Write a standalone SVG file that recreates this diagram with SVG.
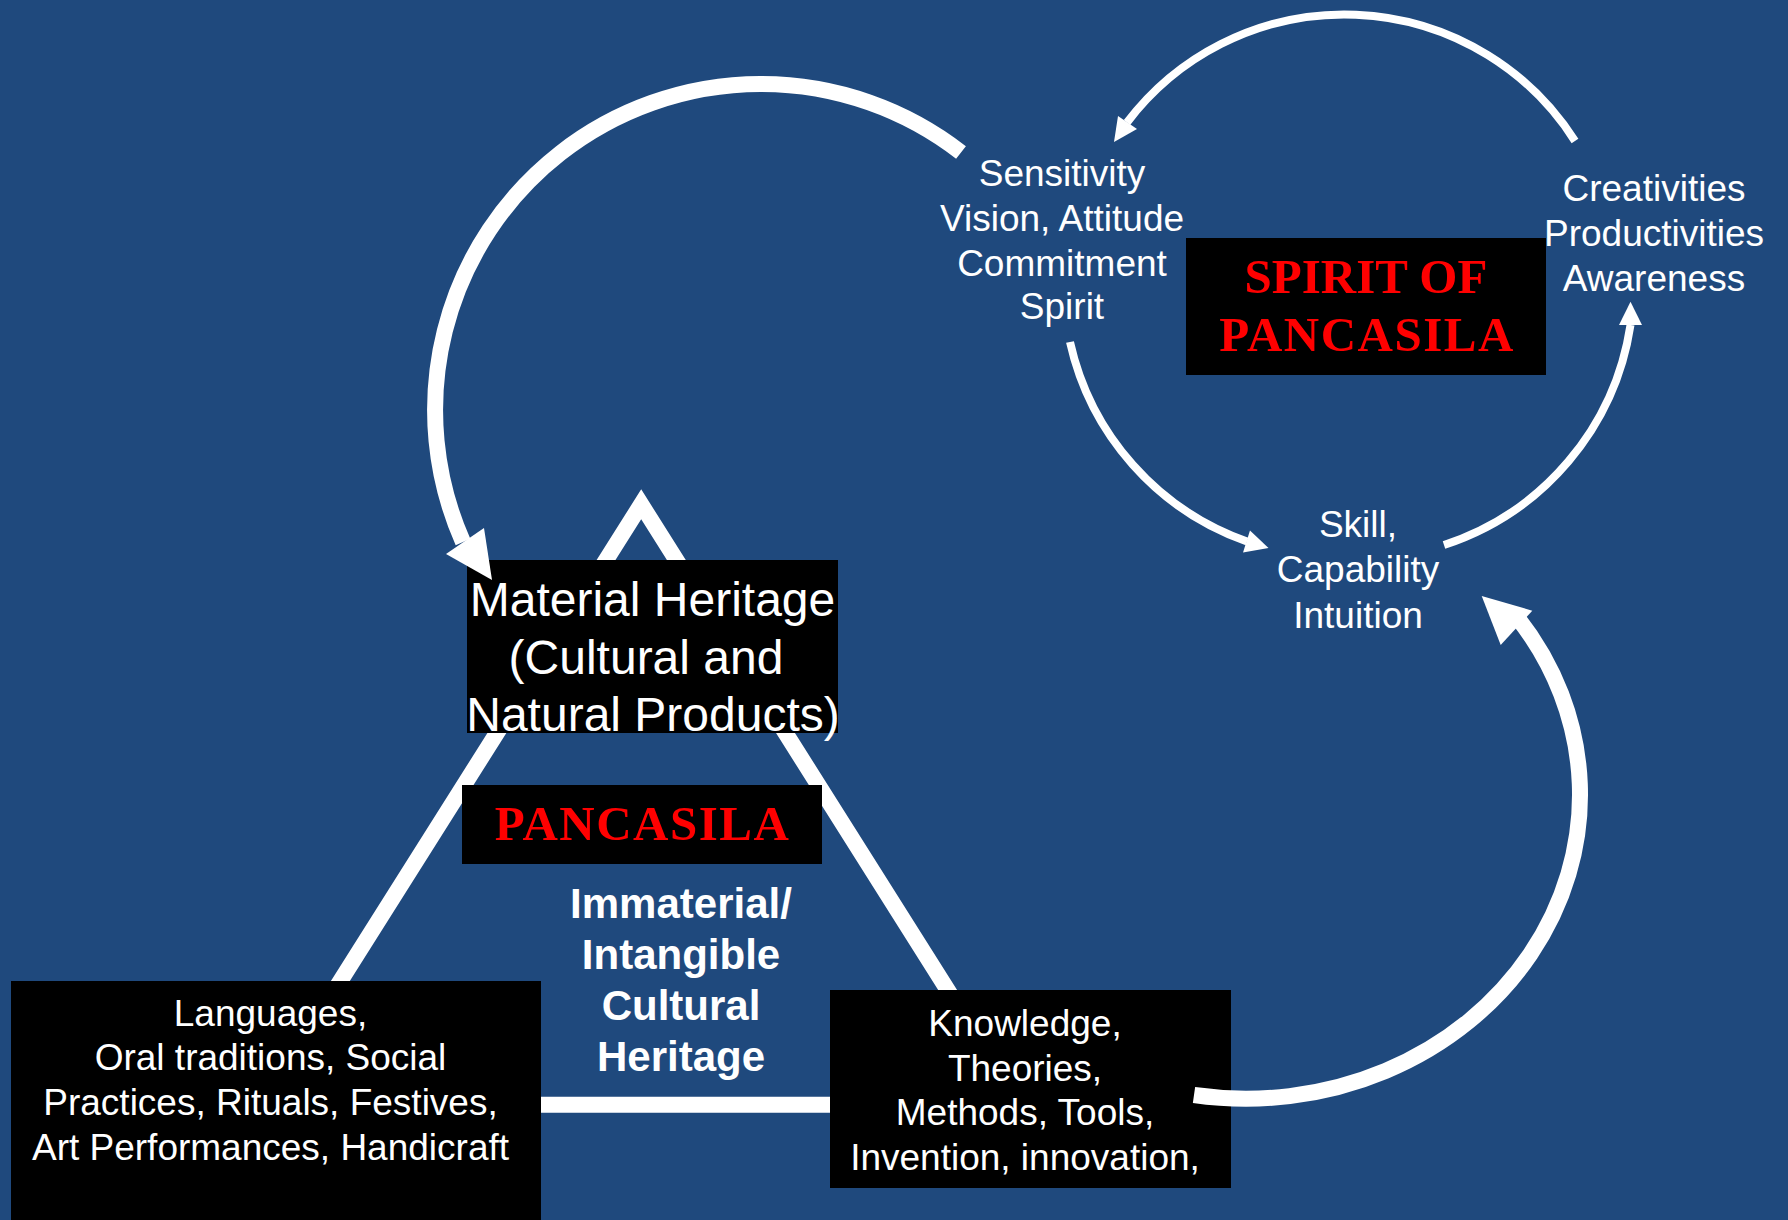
<svg xmlns="http://www.w3.org/2000/svg" width="1788" height="1220" viewBox="0 0 1788 1220">
<style>
.box{fill:#000}
.t{font-family:"Liberation Sans",Arial,sans-serif;fill:#fff;text-anchor:middle}
.s37{font-size:37px}
.s48{font-size:48px}
.bold{font-weight:bold;font-size:42px}
.red{font-family:"Liberation Serif","Times New Roman",serif;font-weight:bold;fill:#f00;font-size:49px;text-anchor:middle}
.wide{letter-spacing:1.5px}
.big{fill:none;stroke:#fff;stroke-width:16}
.thin{fill:none;stroke:#fff;stroke-width:8}
.head{fill:#fff}
.tri{fill:none;stroke:#fff;stroke-width:16;stroke-linejoin:miter;stroke-miterlimit:10}
</style>
<rect x="0" y="0" width="1788" height="1220" fill="#1f497d"/>
<g id="triangle">
<polygon class="tri" points="641.2,504.3 1020,1104.7 262.3,1104.7"/>
</g>
<g id="material">
<rect class="box" x="467" y="560" width="371" height="173"/>
<text class="t s48" x="652.5" y="616">Material Heritage</text>
<text class="t s48" x="646" y="674">(Cultural and</text>
<text class="t s48" x="653" y="731">Natural Products)</text>
</g>
<g id="pancasila">
<rect class="box" x="462" y="785" width="360" height="79"/>
<text class="red wide" x="642.5" y="840">PANCASILA</text>
</g>
<g id="immaterial">
<text class="t bold" x="681" y="918">Immaterial/</text>
<text class="t bold" x="681" y="969">Intangible</text>
<text class="t bold" x="681" y="1020">Cultural</text>
<text class="t bold" x="681" y="1071">Heritage</text>
</g>
<g id="languages">
<rect class="box" x="11" y="981" width="530" height="239"/>
<text class="t s37" x="270.5" y="1026">Languages,</text>
<text class="t s37" x="270.5" y="1070">Oral traditions, Social</text>
<text class="t s37" x="270.5" y="1115">Practices, Rituals, Festives,</text>
<text class="t s37" x="270.5" y="1160">Art Performances, Handicraft</text>
</g>
<g id="knowledge">
<rect class="box" x="830" y="990" width="401" height="198"/>
<text class="t s37" x="1025" y="1035.5">Knowledge,</text>
<text class="t s37" x="1025" y="1080.5">Theories,</text>
<text class="t s37" x="1025" y="1125">Methods, Tools,</text>
<text class="t s37" x="1025" y="1170">Invention, innovation,</text>
</g>
<g id="sensitivity">
<text class="t s37" x="1062" y="186">Sensitivity</text>
<text class="t s37" x="1062" y="231">Vision, Attitude</text>
<text class="t s37" x="1062" y="276">Commitment</text>
<text class="t s37" x="1062" y="319">Spirit</text>
</g>
<g id="spirit">
<rect class="box" x="1186" y="238" width="360" height="137"/>
<text class="red" x="1366" y="292.5">SPIRIT OF</text>
<text class="red wide" x="1367" y="350.5">PANCASILA</text>
</g>
<g id="creativities">
<text class="t s37" x="1654" y="201">Creativities</text>
<text class="t s37" x="1654" y="246">Productivities</text>
<text class="t s37" x="1654" y="291">Awareness</text>
</g>
<g id="skill">
<text class="t s37" x="1358" y="536.5">Skill,</text>
<text class="t s37" x="1358" y="581.5">Capability</text>
<text class="t s37" x="1358" y="627.5">Intuition</text>
</g>
<g id="connectors">
<path class="big" d="M 961 152.5 A 326 326 0 0 0 463 542"/>
<polygon class="head" points="492,580 446,554 484,528"/>
<path class="big" d="M 1194 1095 A 334 304 0 0 0 1517 617"/>
<polygon class="head" points="1481.7,596 1532.3,610.7 1500.7,645"/>
<path class="thin" d="M 1575 141 A 273 273 0 0 0 1127 122.5"/>
<polygon class="head" points="1114,142 1118,116 1137,129"/>
<path class="thin" d="M 1070 342 A 275 275 0 0 0 1247 541.5"/>
<polygon class="head" points="1268.5,548 1250,530.5 1243,552.5"/>
<path class="thin" d="M 1444 545 A 275 275 0 0 0 1630.5 325"/>
<polygon class="head" points="1630.5,301.7 1619,325 1642,325"/>
</g>
</svg>
